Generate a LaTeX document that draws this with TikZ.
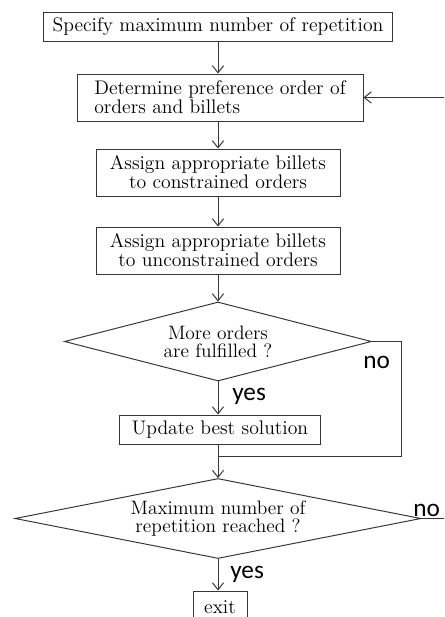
\documentclass[tikz,border=0pt]{standalone}
\usepackage{fontspec}
\usepackage{tikz}
\usetikzlibrary{shapes.geometric, arrows.meta, positioning, calc}
\newfontfamily\labelfont{Carlito}
\definecolor{linegray}{RGB}{55, 55, 55}
\tikzset{
    stepbox/.style={draw=linegray, line width=0.7pt, rectangle, inner sep=2pt,
        font=\fontsize{14}{12}\selectfont, align=center},
    decision/.style={draw=linegray, line width=0.7pt, diamond, inner sep=0pt,
        font=\fontsize{13.8}{13}\selectfont, align=center},
    flow/.style={draw=linegray, line width=0.7pt, -{Straight Barb[length=5pt,width=8pt]}},
    plain/.style={draw=linegray, line width=0.7pt},
    answer/.style={font=\labelfont\fontsize{18}{18}\selectfont, inner sep=0pt, anchor=base west}
}
\begin{document}
\begin{tikzpicture}
    % Frame
    \clip (0,0) rectangle (11.1,-15.425);
    \fill[white] (0,0) rectangle (11.1,-15.425);

    % Steps
    \node[stepbox, minimum width=8.725cm, minimum height=0.725cm] (spec) at (5.45,-0.6625) {Specify maximum number of repetition};
    \node[stepbox, minimum width=7.15cm, minimum height=1.175cm, align=left] (pref) at (5.5,-2.4375) {Determine preference order of\\orders and billets};
    \node[stepbox, minimum width=6.1cm, minimum height=1.175cm] (cons) at (5.45,-4.3125) {Assign appropriate billets\\to constrained orders};
    \node[stepbox, minimum width=6.1cm, minimum height=1.175cm] (uncons) at (5.45,-6.2625) {Assign appropriate billets\\to unconstrained orders};

    % First check
    \node[decision, aspect=3.9, minimum width=7.675cm, minimum height=1.975cm] (more) at (5.45,-8.5375) {More orders\\are fulfilled ?};
    \node[stepbox, minimum width=5.025cm, minimum height=0.725cm] (update) at (5.5,-10.7375) {Update best solution};
    \coordinate (join) at (5.45,-11.4);

    % Second check
    \node[decision, aspect=5.1, minimum width=10.15cm, minimum height=2cm] (maxrep) at (5.45,-12.9625) {Maximum number of\\repetition reached ?};
    \node[stepbox, minimum width=1.35cm, minimum height=0.825cm] (exit) at (5.5,-15.1875) {exit};

    % Answers
    \node[answer] (no1) at (9.075,-9.2) {no};
    \node[answer] (yes1) at (5.8,-10.0) {yes};
    \node[answer] (no2) at (10.325,-12.9) {no};
    \node[answer] (yes2) at (5.75,-14.45) {yes};

    % Connectors
    \draw[flow] (spec.south -| 5.45,0) -- (pref.north -| 5.45,0);
    \draw[flow] (pref.south -| 5.45,0) -- (cons.north);
    \draw[flow] (cons) -- (uncons);
    \draw[flow] (uncons) -- (more);
    \draw[flow] (more.south) -- (update.north -| more.south);
    \draw[plain] (update.south -| join) -- (join);
    \draw[plain] (more.east) -- ++(0.725,0) |- (join);
    \draw[flow] (join) -- (maxrep.north);
    \draw[flow] (maxrep.south) -- (exit.north -| maxrep.south);
    \draw[flow] (maxrep.east) -- ++(0.8,0) |- (pref.east);
\end{tikzpicture}
\end{document}
